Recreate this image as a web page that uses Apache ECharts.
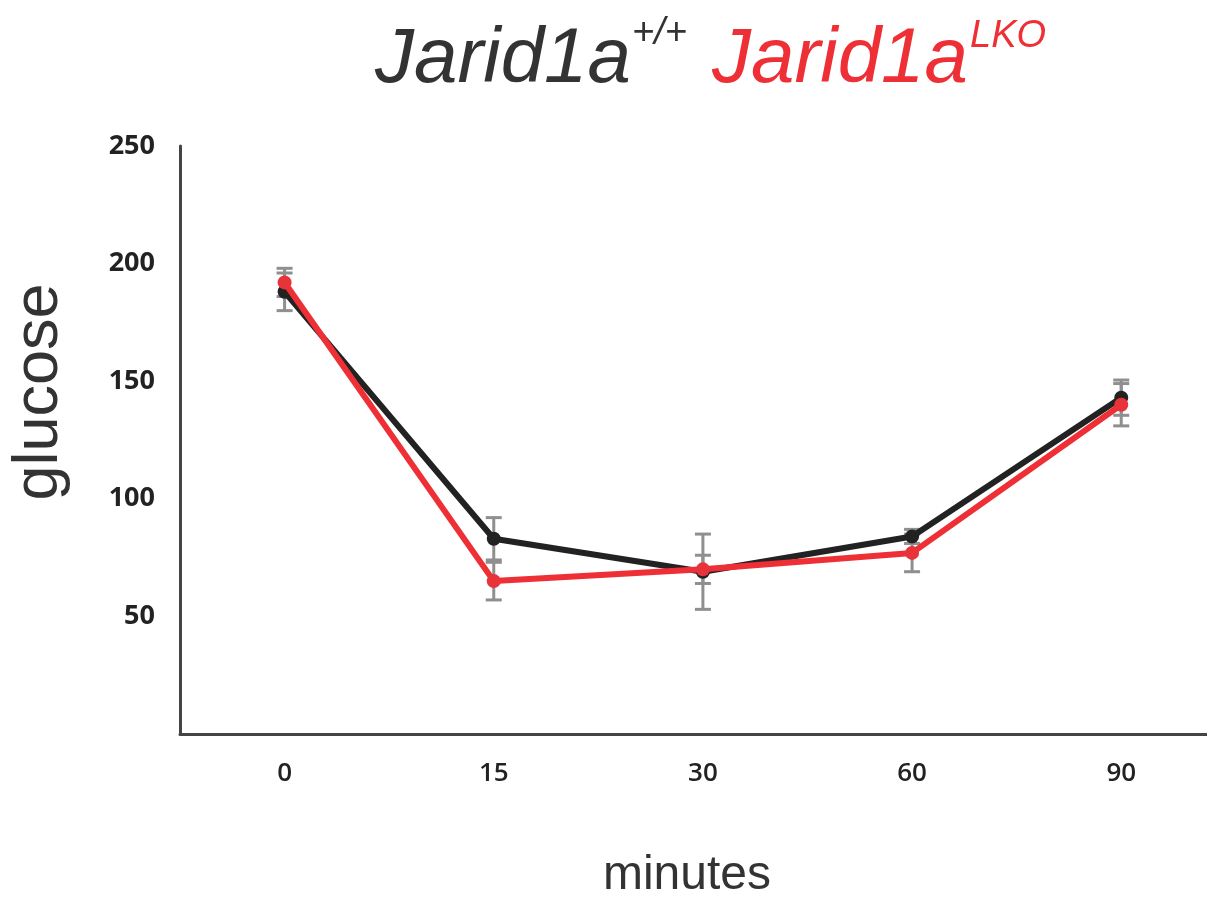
<!DOCTYPE html>
<html>
<head>
<meta charset="utf-8">
<script src="https://cdn.jsdelivr.net/npm/echarts@6/dist/echarts.min.js"></script>
<style>html,body{margin:0;padding:0;background:#fff}#c{width:1207px;height:897px}</style>
</head>
<body>
<div id="c"></div>
<script>
const categories = ['0', '15', '30', '60', '90'];
const wtMean = [188, 83, 69, 84, 143];
const wtErr  = [8, 9, 16, 3, 7.5];
const koMean = [192, 65, 70, 77, 140];
const koErr  = [6, 8, 6, 8, 9];
const yTicks = [0, 50, 100, 150, 200, 250];

const chart = echarts.init(document.getElementById('c'), null, {renderer: 'canvas'});

function errData(mean, err) {
  return mean.map((m, i) => [i, m - err[i], m + err[i]]);
}
function pts(mean) {
  return mean.map((m, i) => [i, m]);
}
function errRender(params, api) {
  const i = api.value(0);
  const lo = api.coord([i, api.value(1)]);
  const hi = api.coord([i, api.value(2)]);
  const w = 8;
  const st = {stroke: '#8f8f8f', lineWidth: 3};
  return {
    type: 'group',
    children: [
      {type: 'line', shape: {x1: lo[0], y1: lo[1], x2: hi[0], y2: hi[1]}, style: st},
      {type: 'line', shape: {x1: lo[0] - w, y1: lo[1], x2: lo[0] + w, y2: lo[1]}, style: st},
      {type: 'line', shape: {x1: hi[0] - w, y1: hi[1], x2: hi[0] + w, y2: hi[1]}, style: st}
    ]
  };
}

const option = {
  backgroundColor: '#fff',
  animation: false,
  grid: {left: 180, top: 146, right: 0, height: 588},
  xAxis: {
    type: 'value',
    min: -0.5,
    max: 4.41,
    interval: 0.5,
    splitLine: {show: false},
    axisLine: {onZero: false, lineStyle: {color: '#444', width: 3}},
    axisTick: {show: false},
    axisLabel: {
      color: '#222', fontSize: 26, fontWeight: 600, fontFamily: 'Open Sans', margin: 27,
      showMinLabel: false, showMaxLabel: false,
      formatter: v => (Number.isInteger(v) && categories[v] !== undefined) ? categories[v] : ''
    }
  },
  yAxis: {
    type: 'value',
    min: yTicks[0],
    max: yTicks[yTicks.length - 1],
    interval: 50,
    splitLine: {show: false},
    axisTick: {show: false},
    axisLine: {show: true, onZero: false, lineStyle: {color: '#444', width: 3}},
    axisLabel: {
      color: '#222', fontSize: 27, fontWeight: 700, fontFamily: 'Open Sans', margin: 25,
      showMinLabel: false
    }
  },
  graphic: [
    {type: 'text', x: 375, y: 60, style: {text: 'Jarid1a', font: 'italic 78px "Liberation Sans", Arial, sans-serif', fill: '#333', textAlign: 'left', textVerticalAlign: 'middle'}},
    {type: 'text', x: 632, y: 33, style: {text: '+/+', font: 'italic 38px "Liberation Sans", Arial, sans-serif', fill: '#333', textAlign: 'left', textVerticalAlign: 'middle'}},
    {type: 'text', x: 712, y: 60, style: {text: 'Jarid1a', font: 'italic 78px "Liberation Sans", Arial, sans-serif', fill: '#ee2f36', textAlign: 'left', textVerticalAlign: 'middle'}},
    {type: 'text', x: 970, y: 36, style: {text: 'LKO', font: 'italic 38px "Liberation Sans", Arial, sans-serif', fill: '#ee2f36', textAlign: 'left', textVerticalAlign: 'middle'}},
    {type: 'text', x: 40, y: 392, rotation: Math.PI / 2, style: {text: 'glucose', font: '63px "Liberation Sans", Arial, sans-serif', fill: '#333', textAlign: 'center', textVerticalAlign: 'middle'}},
    {type: 'text', x: 687, y: 876, style: {text: 'minutes', font: '48px "Liberation Sans", Arial, sans-serif', fill: '#333', textAlign: 'center', textVerticalAlign: 'middle'}}
  ],
  series: [
    {type: 'custom', name: 'wtErr', renderItem: errRender, data: errData(wtMean, wtErr), z: 1, encode: {x: 0, y: [1, 2]}},
    {type: 'custom', name: 'koErr', renderItem: errRender, data: errData(koMean, koErr), z: 1, encode: {x: 0, y: [1, 2]}},
    {type: 'line', name: 'Jarid1a+/+', data: pts(wtMean), symbol: 'circle', symbolSize: 14,
      lineStyle: {color: '#222', width: 6}, itemStyle: {color: '#222'}, z: 3},
    {type: 'line', name: 'Jarid1aLKO', data: pts(koMean), symbol: 'circle', symbolSize: 14,
      lineStyle: {color: '#ee2f36', width: 6}, itemStyle: {color: '#e8333a'}, z: 4}
  ]
};
chart.setOption(option);
</script>
</body>
</html>
